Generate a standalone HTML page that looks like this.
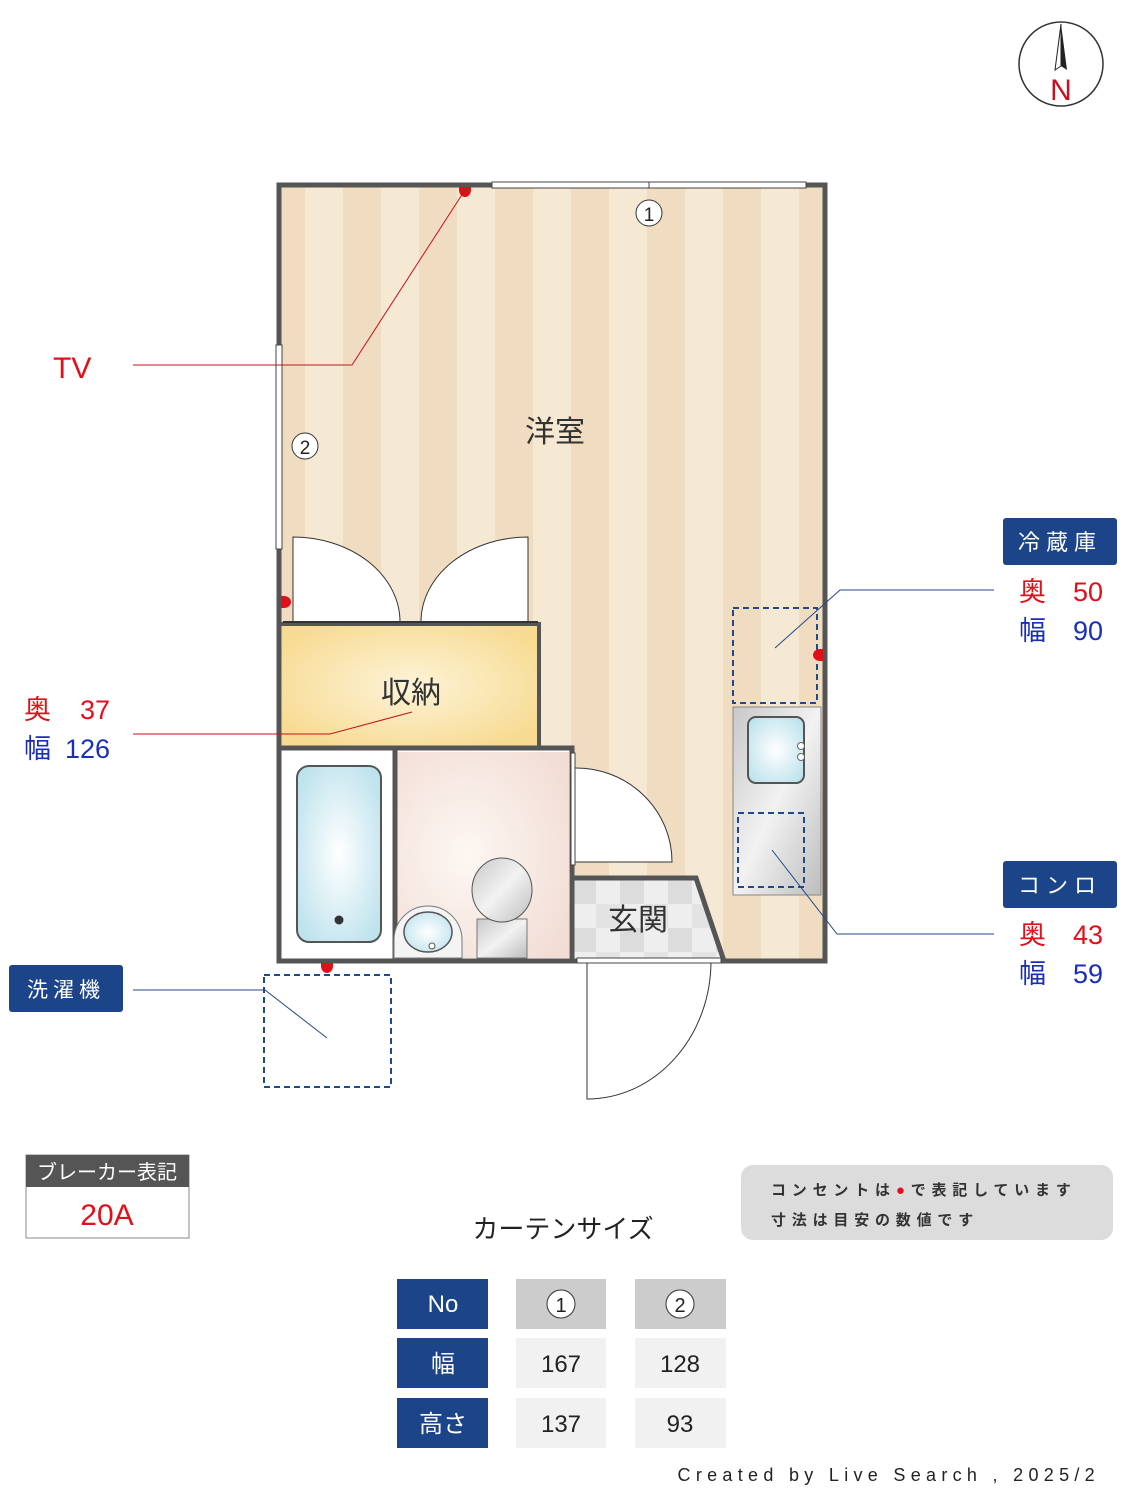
<!DOCTYPE html>
<html><head><meta charset="utf-8"><style>
html,body{margin:0;padding:0;background:#fff}
svg{display:block}
text{font-family:"Liberation Sans","Noto Sans CJK JP",sans-serif}
</style></head><body>
<svg width="1125" height="1500" viewBox="0 0 1125 1500" xmlns="http://www.w3.org/2000/svg">
<defs>
<pattern id="st" x="267" y="0" width="76" height="10" patternUnits="userSpaceOnUse">
<rect width="76" height="10" fill="#f6e9d4"/><rect width="38" height="10" fill="#f0dcc0"/>
</pattern>
<radialGradient id="yel" cx="0.5" cy="0.5" r="0.6"><stop offset="0" stop-color="#fdf3d8"/><stop offset="1" stop-color="#f7db92"/></radialGradient>
<radialGradient id="blu" cx="0.5" cy="0.5" r="0.6"><stop offset="0" stop-color="#ffffff"/><stop offset="1" stop-color="#bfe3ed"/></radialGradient>
<radialGradient id="pink" cx="0.4" cy="0.5" r="0.7"><stop offset="0" stop-color="#fdf7f3"/><stop offset="1" stop-color="#f2ddd5"/></radialGradient>
<linearGradient id="steel" x1="0" y1="0" x2="1" y2="1"><stop offset="0" stop-color="#c8c8c8"/><stop offset="0.5" stop-color="#f2f2f2"/><stop offset="1" stop-color="#bdbdbd"/></linearGradient>
<pattern id="chk" x="572" y="880" width="48" height="48" patternUnits="userSpaceOnUse">
<rect width="48" height="48" fill="#eeeeee"/><rect width="24" height="24" fill="#dcdcdc"/><rect x="24" y="24" width="24" height="24" fill="#e3e3e3"/>
</pattern>
</defs>

<circle cx="1061" cy="64" r="42" fill="#fff" stroke="#333" stroke-width="1.5"/>
<polygon points="1061,24 1055,70 1061,66" fill="#fff" stroke="#222" stroke-width="1"/>
<polygon points="1061,24 1067,70 1061,66" fill="#222"/>
<text x="1061" y="100" font-size="30" fill="#c8101e" text-anchor="middle">N</text>

<rect x="279" y="185" width="546" height="776" fill="url(#st)"/>
<rect x="281" y="624" width="258" height="122" fill="url(#yel)"/>
<rect x="281" y="748" width="290" height="212" fill="#fff"/>
<rect x="397" y="752" width="172" height="206" fill="url(#pink)"/>
<rect x="297" y="766" width="84" height="176" rx="12" fill="url(#blu)" stroke="#555" stroke-width="2"/>
<circle cx="339" cy="920" r="4.5" fill="#333"/>
<line x1="395" y1="748" x2="395" y2="960" stroke="#555" stroke-width="5"/>
<path d="M394,958 L394,940 A34,34 0 0 1 462,940 L462,958 Z" fill="#f4f4f4" stroke="#777" stroke-width="1"/>
<ellipse cx="428" cy="932" rx="24" ry="20" fill="url(#blu)" stroke="#555" stroke-width="1.5"/>
<circle cx="432" cy="946" r="3" fill="#fff" stroke="#555"/>
<rect x="477" y="919" width="50" height="39" fill="url(#steel)" stroke="#777"/>
<ellipse cx="502" cy="890" rx="30" ry="32" fill="url(#steel)" stroke="#555"/>
<polygon points="572,878 696,878 724,961 572,961" fill="url(#chk)" stroke="#555" stroke-width="5"/>
<rect x="733" y="707" width="88" height="188" fill="url(#steel)" stroke="#888"/>
<rect x="748" y="717" width="56" height="66" rx="8" fill="url(#blu)" stroke="#555" stroke-width="2"/>
<circle cx="801" cy="746" r="3.5" fill="#fff" stroke="#666"/><circle cx="801" cy="757" r="3.5" fill="#fff" stroke="#666"/>
<rect x="738" y="813" width="66" height="74" fill="none" stroke="#1f4a8a" stroke-width="2" stroke-dasharray="6,4"/>
<rect x="733" y="608" width="84" height="95" fill="none" stroke="#1f4a8a" stroke-width="2" stroke-dasharray="6,4"/>
<rect x="264" y="975" width="127" height="112" fill="none" stroke="#1f4a8a" stroke-width="2" stroke-dasharray="6,4"/>

<rect x="279" y="185" width="546" height="776" fill="none" stroke="#555" stroke-width="5"/>
<polyline points="281,624 539,624 539,748" fill="none" stroke="#555" stroke-width="4"/>
<polyline points="279,748 572,748 572,961" fill="none" stroke="#555" stroke-width="5"/>
<rect x="492" y="182" width="314" height="6" fill="#fff" stroke="#444" stroke-width="1"/>
<line x1="649" y1="182" x2="649" y2="188" stroke="#444"/>
<rect x="276" y="345" width="6" height="204" fill="#fff" stroke="#444" stroke-width="1"/>
<path d="M293,622 L293,537 A107,85 0 0 1 400,622" fill="#fff" stroke="#333" stroke-width="1"/>
<path d="M528,622 L528,537 A107,85 0 0 0 421,622" fill="#fff" stroke="#333" stroke-width="1"/>
<line x1="283" y1="622" x2="538" y2="622" stroke="#333" stroke-width="2"/>
<path d="M574,768 A96,94 0 0 1 672,862 L574,862 Z" fill="#fff" stroke="#333" stroke-width="1"/>
<rect x="571" y="753" width="4" height="112" fill="#fff" stroke="#444" stroke-width="1"/>
<path d="M587,961 L587,1099 A124,138 0 0 0 711,961" fill="#fff" stroke="#333" stroke-width="1"/>
<rect x="577" y="958" width="144" height="5" fill="#fff" stroke="#444" stroke-width="1"/>

<path d="M459,187 L459,190 A6,7 0 0 0 471,190 L471,187 Z" fill="#e0101a"/>
<path d="M281,596 L284,596 A7,6 0 0 1 284,608 L281,608 Z" fill="#e0101a"/>
<path d="M823,649 L820,649 A7,6 0 0 0 820,661 L823,661 Z" fill="#e0101a"/>
<path d="M321,963 L321,966 A6,7 0 0 0 333,966 L333,963 Z" fill="#e0101a"/>

<circle cx="649" cy="213" r="13" fill="#fff" stroke="#333"/><text x="649" y="221" font-size="19" text-anchor="middle" fill="#222">1</text>
<circle cx="305" cy="446" r="13" fill="#fff" stroke="#333"/><text x="305" y="454" font-size="19" text-anchor="middle" fill="#222">2</text>
<text x="555" y="442" font-size="30" text-anchor="middle" fill="#333">洋室</text>
<text x="411" y="703" font-size="30" text-anchor="middle" fill="#333">収納</text>
<text x="638" y="930" font-size="30" text-anchor="middle" fill="#333">玄関</text>

<polyline points="133,365 352,365 465,190" fill="none" stroke="#c8101e" stroke-width="1"/>
<polyline points="133,734 330,734 412,712" fill="none" stroke="#c8101e" stroke-width="1"/>
<polyline points="994,590 840,590 775,648" fill="none" stroke="#1f4a8a" stroke-width="1"/>
<polyline points="994,934 837,934 772,850" fill="none" stroke="#1f4a8a" stroke-width="1"/>
<polyline points="133,990 265,990 327,1038" fill="none" stroke="#1f4a8a" stroke-width="1"/>

<text x="53" y="378" font-size="30" fill="#e0101a">TV</text>
<text x="24" y="719" font-size="27" fill="#e0101a">奥</text><text x="110" y="719" font-size="27" fill="#e0101a" text-anchor="end">37</text>
<text x="24" y="758" font-size="27" fill="#1a2fb8">幅</text><text x="110" y="758" font-size="27" fill="#1a2fb8" text-anchor="end">126</text>

<rect x="1003" y="518" width="114" height="47" rx="3" fill="#1b4489"/>
<text x="1060" y="550" font-size="22" fill="#fff" text-anchor="middle" letter-spacing="6">冷蔵庫</text>
<text x="1019" y="601" font-size="27" fill="#e0101a">奥</text><text x="1103" y="601" font-size="27" fill="#e0101a" text-anchor="end">50</text>
<text x="1019" y="640" font-size="27" fill="#1a2fb8">幅</text><text x="1103" y="640" font-size="27" fill="#1a2fb8" text-anchor="end">90</text>

<rect x="1003" y="861" width="114" height="47" rx="3" fill="#1b4489"/>
<text x="1060" y="893" font-size="22" fill="#fff" text-anchor="middle" letter-spacing="6">コンロ</text>
<text x="1019" y="944" font-size="27" fill="#e0101a">奥</text><text x="1103" y="944" font-size="27" fill="#e0101a" text-anchor="end">43</text>
<text x="1019" y="983" font-size="27" fill="#1a2fb8">幅</text><text x="1103" y="983" font-size="27" fill="#1a2fb8" text-anchor="end">59</text>

<rect x="9" y="965" width="114" height="47" rx="3" fill="#1b4489"/>
<text x="66" y="997" font-size="21" fill="#fff" text-anchor="middle" letter-spacing="5">洗濯機</text>

<rect x="26" y="1155" width="163" height="83" fill="#fff" stroke="#888"/>
<rect x="26" y="1155" width="163" height="32" fill="#555"/>
<text x="107" y="1179" font-size="20" fill="#fff" text-anchor="middle">ブレーカー表記</text>
<text x="107" y="1225" font-size="30" fill="#e0101a" text-anchor="middle">20A</text>

<rect x="741" y="1165" width="372" height="75" rx="12" fill="#dcdcdc"/>
<text x="771" y="1195" font-size="15" fill="#333" font-weight="bold" letter-spacing="5.8">コンセントは<tspan fill="#e0101a">●</tspan>で表記しています</text>
<text x="771" y="1225" font-size="15" fill="#333" font-weight="bold" letter-spacing="5.8">寸法は目安の数値です</text>

<text x="563" y="1238" font-size="26" fill="#222" text-anchor="middle">カーテンサイズ</text>

<rect x="397" y="1279" width="91" height="50" fill="#1b4489"/>
<rect x="516" y="1279" width="90" height="50" fill="#cccccc"/>
<rect x="635" y="1279" width="91" height="50" fill="#cccccc"/>
<rect x="397" y="1338" width="91" height="50" fill="#1b4489"/>
<rect x="516" y="1338" width="90" height="50" fill="#f1f1f1"/>
<rect x="635" y="1338" width="91" height="50" fill="#f1f1f1"/>
<rect x="397" y="1398" width="91" height="50" fill="#1b4489"/>
<rect x="516" y="1398" width="90" height="50" fill="#f1f1f1"/>
<rect x="635" y="1398" width="91" height="50" fill="#f1f1f1"/>
<text x="443" y="1312" font-size="24" fill="#fff" text-anchor="middle">No</text>
<circle cx="561" cy="1304" r="14" fill="#fff" stroke="#333"/><text x="561" y="1312" font-size="20" text-anchor="middle" fill="#222">1</text>
<circle cx="680" cy="1304" r="14" fill="#fff" stroke="#333"/><text x="680" y="1312" font-size="20" text-anchor="middle" fill="#222">2</text>
<text x="443" y="1372" font-size="24" fill="#fff" text-anchor="middle">幅</text>
<text x="561" y="1372" font-size="24" fill="#222" text-anchor="middle">167</text>
<text x="680" y="1372" font-size="24" fill="#222" text-anchor="middle">128</text>
<text x="443" y="1432" font-size="24" fill="#fff" text-anchor="middle">高さ</text>
<text x="561" y="1432" font-size="24" fill="#222" text-anchor="middle">137</text>
<text x="680" y="1432" font-size="24" fill="#222" text-anchor="middle">93</text>

<text x="1100" y="1481" font-size="18" fill="#222" text-anchor="end" letter-spacing="5.3">Created by Live Search , 2025/2</text>
</svg>
</body></html>
